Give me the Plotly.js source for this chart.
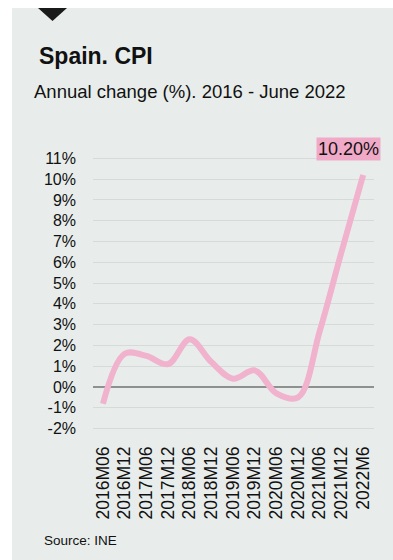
<!DOCTYPE html>
<html><head><meta charset="utf-8">
<script src="https://cdn.plot.ly/plotly-3.0.1.min.js"></script>
<style>html,body{margin:0;padding:0;background:#fff}#chart{width:393px;height:560px}</style>
</head><body><div id="chart"></div>
<script>
const categories = ['2016M06','2016M12','2017M06','2017M12','2018M06','2018M12','2019M06','2019M12','2020M06','2020M12','2021M06','2021M12','2022M6'];
const cpi = [-0.8, 1.6, 1.5, 1.1, 2.3, 1.2, 0.4, 0.8, -0.3, -0.5, 2.7, 6.5, 10.2];
const yTicks = [-2,-1,0,1,2,3,4,5,6,7,8,9,10,11];
const yTickText = yTicks.map(v => v + '%');

const W = 393, H = 560;
const M = {l: 93, r: 19, t: 148, b: 121};
const pw = W - M.l - M.r, ph = H - M.t - M.b;
const px = x => (x - M.l) / pw;
const py = y => (H - M.b - y) / ph;
const FONT = '"Liberation Sans", Arial, sans-serif';

const lastIdx = cpi.length - 1;
const layout = {
  width: W, height: H,
  margin: M,
  paper_bgcolor: '#ffffff',
  plot_bgcolor: 'rgba(0,0,0,0)',
  showlegend: false,
  font: {family: FONT, color: '#111', size: 16},
  xaxis: {
    type: 'category',
    range: [-0.46, 12.5],
    tickangle: -90,
    showgrid: false, zeroline: false, showline: false,
    ticks: '', ticklabelstandoff: 3,
    tickfont: {family: FONT, size: 17.5, color: '#111'}
  },
  yaxis: {
    range: [-2.5, 11.5],
    tickvals: yTicks, ticktext: yTickText,
    showgrid: true, gridcolor: '#d6dad9', gridwidth: 1,
    zeroline: true, zerolinecolor: '#8e9190', zerolinewidth: 1.5,
    showline: false, ticks: '', ticklabelstandoff: 16,
    tickfont: {family: FONT, size: 16, color: '#111'}
  },
  shapes: [
    {type: 'rect', xref: 'paper', yref: 'paper', layer: 'below',
     x0: px(12), x1: px(393), y0: py(560), y1: py(8),
     fillcolor: '#e8edeb', line: {width: 0}},
    {type: 'path', xref: 'paper', yref: 'paper', layer: 'above',
     path: `M ${px(38)} ${py(8)} L ${px(67)} ${py(8)} L ${px(52.5)} ${py(21)} Z`,
     fillcolor: '#1a1a1a', line: {width: 0}}
  ],
  annotations: [
    {xref: 'paper', yref: 'paper', x: px(37), y: py(56), xanchor: 'left', yanchor: 'middle',
     text: '<b>Spain. CPI</b>', showarrow: false, font: {family: FONT, size: 23, color: '#111'}},
    {xref: 'paper', yref: 'paper', x: px(32), y: py(91), xanchor: 'left', yanchor: 'middle',
     text: 'Annual change (%). 2016 - June 2022', showarrow: false, font: {family: FONT, size: 18.5, color: '#111'}},
    {xref: 'paper', yref: 'paper', x: px(42), y: py(540), xanchor: 'left', yanchor: 'middle',
     text: 'Source: INE', showarrow: false, font: {family: FONT, size: 13.5, color: '#111'}},
    {xref: 'x', yref: 'y', x: categories[lastIdx], y: cpi[lastIdx], xanchor: 'right', yanchor: 'bottom',
     xshift: 18, yshift: 14, text: cpi[lastIdx].toFixed(2) + '%', showarrow: false,
     bgcolor: '#f1a9c8', borderpad: 1, font: {family: FONT, size: 18, color: '#111'}}
  ]
};

const trace = {
  type: 'scatter', mode: 'lines',
  x: categories, y: cpi,
  line: {color: '#f0b2cc', width: 6, shape: 'spline', smoothing: 1},
  hoverinfo: 'skip'
};

Plotly.newPlot('chart', [trace], layout, {staticPlot: true, displayModeBar: false});
</script>
</body></html>
